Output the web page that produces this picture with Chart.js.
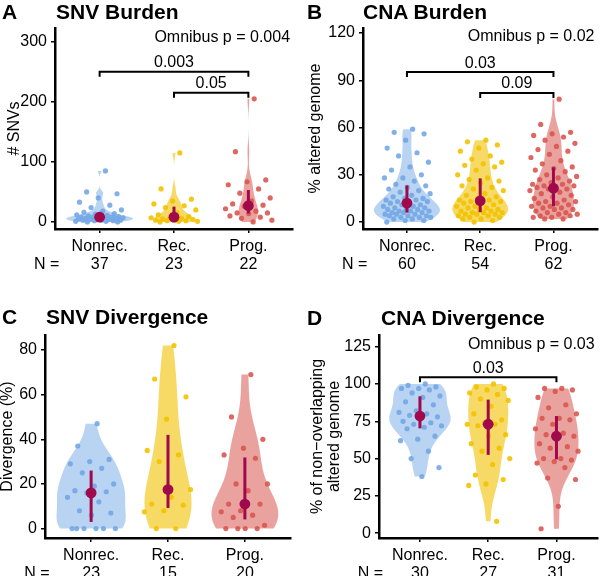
<!DOCTYPE html>
<html>
<head>
<meta charset="utf-8">
<script src="https://cdn.jsdelivr.net/npm/chart.js@4.4.1/dist/chart.umd.min.js"></script>
<style>
  body { margin: 0; background: #fff; font-family: "Liberation Sans", Arial, sans-serif; }
  #wrap { position: relative; width: 600px; height: 576px; overflow: hidden; }
  .panel { position: absolute; width: 300px; height: 288px; }
  .head { position: absolute; font-weight: bold; font-size: 21px; line-height: 1; color: #000; white-space: nowrap; }
</style>
</head>
<body>
<div id="wrap">
  <div class="panel" style="left:0;top:0"><canvas id="chartA" width="300" height="288"></canvas></div>
  <div class="panel" style="left:300px;top:0"><canvas id="chartB" width="300" height="288"></canvas></div>
  <div class="panel" style="left:0;top:288px"><canvas id="chartC" width="300" height="288"></canvas></div>
  <div class="panel" style="left:300px;top:288px"><canvas id="chartD" width="300" height="288"></canvas></div>

  <div class="head" style="left:2px;top:1px">A</div>
  <div class="head" style="left:56px;top:1px">SNV Burden</div>
  <div class="head" style="left:307px;top:1px">B</div>
  <div class="head" style="left:363px;top:1px">CNA Burden</div>
  <div class="head" style="left:2px;top:306px">C</div>
  <div class="head" style="left:46px;top:306px">SNV Divergence</div>
  <div class="head" style="left:307px;top:307px">D</div>
  <div class="head" style="left:381px;top:307px">CNA Divergence</div>
</div>

<script>
'use strict';

// categories
const groups = ['Nonrec.', 'Rec.', 'Prog.'];

// A - number of SNVs per sample
const snvBurdenNonrec = [85, 50, 47, 40, 33, 28, 24, 20, 18, 16, 14, 13, 12, 11, 10, 9, 9, 8, 8, 8, 7, 7, 6, 6, 5, 5, 4, 4, 3, 3, 3, 2, 2, 1, 1, 0, 0];
const snvBurdenRec = [115, 55, 38, 35, 30, 27, 24, 20, 15, 12, 9, 8, 7, 6, 5, 4, 3, 3, 2, 2, 1, 1, 0];
const snvBurdenProg = [205, 117, 70, 67, 62, 55, 48, 40, 35, 30, 28, 26, 22, 18, 15, 15, 14, 10, 8, 6, 3, 0];

// B - % altered genome
const cnaBurdenNonrec = [59, 57, 56, 52, 47, 44, 42, 38, 35, 33, 30, 28, 28, 26, 24, 23, 22, 21, 20, 19,
  18, 17, 16, 15, 15, 14, 14, 13, 13, 12, 12, 11, 11, 10, 10, 9, 9, 8, 8, 8,
  7, 7, 7, 6, 6, 6, 5, 5, 5, 4, 4, 4, 3, 3, 3, 2, 2, 1, 1, 0];
const cnaBurdenRec = [52, 51, 49, 47, 45, 42, 40, 38, 37, 36, 35, 33, 30, 28, 27, 26, 25, 23, 22, 21,
  20, 18, 17, 16, 15, 14, 14, 13, 13, 12, 12, 11, 10, 10, 9, 9, 8, 8, 7, 7,
  6, 6, 6, 5, 5, 5, 4, 4, 3, 3, 2, 2, 1, 0];
const cnaBurdenProg = [78, 62, 57, 56, 55, 54, 52, 50, 48, 46, 45, 43, 41, 39, 37, 35, 34, 33, 32, 30,
  29, 28, 27, 26, 25, 24, 24, 23, 23, 22, 22, 21, 21, 20, 19, 18, 17, 16, 15, 14,
  13, 13, 12, 12, 11, 10, 10, 9, 9, 8, 8, 7, 6, 6, 5, 5, 4, 4, 3, 3, 2, 2];

// C - SNV divergence (%)
const snvDivNonrec = [47, 37, 31, 30, 29, 27, 25, 20, 19, 17, 16.5, 16, 14, 12, 8, 7, 6, 0, 0, 0, 0, 0, 0];
const snvDivRec = [82, 67, 59, 49, 35, 33, 30, 17.5, 14, 11, 10.5, 8, 7.5, 0, 0];
const snvDivProg = [69, 50, 40, 36, 33, 31.5, 20, 20, 17, 11, 11, 8, 7.5, 6, 5, 1.5, 0, 0, 0, 0];

// D - % of non-overlapping altered genome
const cnaDivNonrec = [100, 99, 98, 97, 97, 96, 94, 92, 91, 88, 86, 82, 81, 80, 79, 78, 77, 75, 74, 73, 72, 71, 70, 65, 63, 62, 55, 50, 44, 38];
const cnaDivRec = [100, 98, 97, 96, 94, 93, 90, 89, 85, 80, 76, 74, 73, 73, 72, 66, 65, 60, 57, 55, 50, 46, 39, 36, 33, 32, 8];
const cnaDivProg = [97, 97, 96, 95, 91, 86, 84, 80, 77, 77, 76, 73, 70, 67, 66, 65, 64, 60, 58, 57, 55, 50, 50, 49, 48, 47, 44, 37, 36, 18, 3];

// tick labels
const snvBurdenTicks = [0, 100, 200, 300];
const cnaBurdenTicks = [0, 30, 60, 90, 120];
const snvDivTicks = [0, 20, 40, 60, 80];
const cnaDivTicks = [0, 25, 50, 75, 100, 125];

// test results
const snvBurdenP = ['0.004', '0.003', '0.05'];
const cnaBurdenP = ['0.02', '0.03', '0.09'];
const cnaDivP = ['0.03', '0.03'];

const pointColors = ['rgba(115,168,230,0.9)', 'rgba(242,194,0,0.9)', 'rgba(217,86,80,0.9)'];
const fillColors = ['rgba(115,168,230,0.5)', 'rgba(242,194,0,0.6)', 'rgba(217,86,80,0.55)'];
const summaryColor = '#a0094c';

Chart.defaults.font.family = '"Liberation Sans", Arial, sans-serif';
Chart.defaults.color = '#000';

function quantile(v, p) {
  const s = [...v].sort((a, b) => a - b);
  const h = (s.length - 1) * p;
  const lo = Math.floor(h);
  const hi = Math.min(lo + 1, s.length - 1);
  return s[lo] + (h - lo) * (s[hi] - s[lo]);
}

// same rule as R's bw.nrd0
function bandwidth(v) {
  const n = v.length;
  const mean = v.reduce((a, b) => a + b, 0) / n;
  const sd = Math.sqrt(v.reduce((a, b) => a + (b - mean) * (b - mean), 0) / (n - 1));
  const iqr = quantile(v, 0.75) - quantile(v, 0.25);
  let lo = Math.min(sd, iqr / 1.34);
  if (!lo) lo = sd || 1;
  return 0.9 * lo * Math.pow(n, -0.2);
}

// gaussian kernel density, trimmed to the data range
function density(v) {
  const bw = bandwidth(v);
  const lo = Math.min(...v), hi = Math.max(...v);
  const out = [];
  const steps = 160;
  for (let k = 0; k <= steps; k++) {
    const t = lo + (hi - lo) * k / steps;
    let s = 0;
    v.forEach(xi => {
      const z = (t - xi) / bw;
      s += Math.exp(-0.5 * z * z);
    });
    out.push([t, s / (v.length * bw * Math.sqrt(2 * Math.PI))]);
  }
  return out;
}

// spread points sideways without random numbers
function jitter(i) {
  return (((i + 1) * 0.6180339887) % 1 * 2 - 1) * 0.33;
}

const violinPlugin = {
  id: 'violins',
  beforeDatasetsDraw(chart, args, opts) {
    const {ctx, scales: {x, y}} = chart;
    const dens = opts.values.map(v => density(v));
    let maxD = 0;
    dens.forEach(d => d.forEach(p => { if (p[1] > maxD) maxD = p[1]; }));
    dens.forEach((d, i) => {
      ctx.save();
      ctx.beginPath();
      d.forEach((p, k) => {
        const px = x.getPixelForValue(i + 1 + 0.45 * p[1] / maxD);
        const py = y.getPixelForValue(p[0]);
        if (k === 0) ctx.moveTo(px, py); else ctx.lineTo(px, py);
      });
      for (let k = d.length - 1; k >= 0; k--) {
        ctx.lineTo(x.getPixelForValue(i + 1 - 0.45 * d[k][1] / maxD), y.getPixelForValue(d[k][0]));
      }
      ctx.closePath();
      ctx.fillStyle = fillColors[i];
      ctx.fill();
      ctx.restore();
    });
  },
  afterDatasetsDraw(chart, args, opts) {
    const {ctx, chartArea, scales: {x, y}} = chart;
    ctx.save();
    // median with interquartile range
    opts.values.forEach((v, i) => {
      const px = x.getPixelForValue(i + 1);
      ctx.strokeStyle = summaryColor;
      ctx.lineWidth = 3;
      ctx.beginPath();
      ctx.moveTo(px, y.getPixelForValue(quantile(v, 0.25)));
      ctx.lineTo(px, y.getPixelForValue(quantile(v, 0.75)));
      ctx.stroke();
      ctx.fillStyle = summaryColor;
      ctx.beginPath();
      ctx.arc(px, y.getPixelForValue(quantile(v, 0.5)), 5.4, 0, Math.PI * 2);
      ctx.fill();
    });

    ctx.fillStyle = '#000';
    ctx.strokeStyle = '#000';
    ctx.font = '16px "Liberation Sans", Arial, sans-serif';

    // omnibus test
    if (opts.omnibus) {
      ctx.textAlign = 'right';
      ctx.textBaseline = 'alphabetic';
      ctx.fillText('Omnibus p = ' + opts.omnibus.p, x.getPixelForValue(3.56), y.getPixelForValue(opts.omnibus.y));
    }

    // pairwise brackets
    (opts.brackets || []).forEach(b => {
      const x1 = x.getPixelForValue(b.from);
      const x2 = x.getPixelForValue(b.to);
      const py = y.getPixelForValue(b.y);
      ctx.lineWidth = 2;
      ctx.beginPath();
      ctx.moveTo(x1, py + 5);
      ctx.lineTo(x1, py);
      ctx.lineTo(x2, py);
      ctx.lineTo(x2, py + 5);
      ctx.stroke();
      ctx.textAlign = 'center';
      ctx.textBaseline = 'alphabetic';
      ctx.fillText(b.p, (x1 + x2) / 2, py - 4.5);
    });

    // sample size row label
    ctx.textAlign = 'right';
    ctx.textBaseline = 'middle';
    ctx.fillText('N =', x.getPixelForValue(0.46), chartArea.bottom + 9 + 17.6 * 1.5);
    ctx.restore();
  }
};

function makePanel(id, values, yTicks, yMin, yMax, yTitle, area, extra) {
  const axisGrid = {display: true, drawOnChartArea: false, drawTicks: true, tickLength: 4, color: '#000', lineWidth: 1.5};
  const axisBorder = {display: true, color: '#000', width: 2.5};
  const counts = values.map(v => v.length);

  new Chart(document.getElementById(id), {
    type: 'scatter',
    data: {
      datasets: values.map((v, g) => ({
        data: v.map((val, i) => ({x: g + 1 + jitter(i), y: val})),
        backgroundColor: pointColors[g],
        borderWidth: 0,
        pointRadius: 2.6,
        pointHoverRadius: 2.6
      }))
    },
    options: {
      responsive: false,
      animation: false,
      events: [],
      layout: {padding: {top: area.top, right: 300 - area.right, left: 0, bottom: 0}},
      plugins: {
        legend: {display: false},
        tooltip: {enabled: false},
        violins: Object.assign({values: values}, extra)
      },
      scales: {
        x: {
          type: 'linear',
          min: 0.4,
          max: 3.6,
          afterBuildTicks: s => { s.ticks = [1, 2, 3].map(v => ({value: v})); },
          afterFit: s => { s.height = 288 - area.bottom; },
          ticks: {
            callback: v => [groups[v - 1], String(counts[v - 1])],
            font: {size: 16, lineHeight: 1.1},
            color: '#000',
            padding: 5,
            maxRotation: 0,
            autoSkip: false
          },
          grid: axisGrid,
          border: axisBorder
        },
        y: {
          min: yMin,
          max: yMax,
          afterBuildTicks: s => { s.ticks = yTicks.map(v => ({value: v})); },
          afterFit: s => { s.width = area.left; },
          ticks: {font: {size: 16}, color: '#000', padding: 4},
          grid: axisGrid,
          border: axisBorder,
          title: {
            display: true,
            text: yTitle,
            color: '#000',
            font: {size: 16, lineHeight: area.titleLine || 1.2},
            padding: {top: area.titlePad, bottom: 0}
          }
        }
      }
    },
    plugins: [violinPlugin]
  });
}

makePanel('chartA', [snvBurdenNonrec, snvBurdenRec, snvBurdenProg], snvBurdenTicks, -11.7, 323, '# SNVs',
  {left: 55, right: 293, top: 28, bottom: 229, titlePad: 5},
  {omnibus: {p: snvBurdenP[0], y: 300},
   brackets: [{from: 1, to: 3, y: 250, p: snvBurdenP[1]}, {from: 2, to: 3, y: 215, p: snvBurdenP[2]}]});

makePanel('chartB', [cnaBurdenNonrec, cnaBurdenRec, cnaBurdenProg], cnaBurdenTicks, -4.4, 123.2, '% altered genome',
  {left: 63, right: 298, top: 28, bottom: 229, titlePad: 6},
  {omnibus: {p: cnaBurdenP[0], y: 115},
   brackets: [{from: 1, to: 3, y: 95.2, p: cnaBurdenP[1]}, {from: 2, to: 3, y: 82, p: cnaBurdenP[2]}]});

makePanel('chartC', [snvDivNonrec, snvDivRec, snvDivProg], snvDivTicks, -4.2, 86.7, 'Divergence (%)',
  {left: 45, right: 291, top: 47, bottom: 250, titlePad: -2});

makePanel('chartD', [cnaDivNonrec, cnaDivRec, cnaDivProg], cnaDivTicks, -3.2, 132.8, ['% of non\u2212overlapping', 'altered genome'],
  {left: 79, right: 298, top: 47, bottom: 250, titlePad: 9, titleLine: 1.08},
  {omnibus: {p: cnaDivP[0], y: 123.4},
   brackets: [{from: 1, to: 3, y: 104.5, p: cnaDivP[1]}]});
</script>
</body>
</html>
